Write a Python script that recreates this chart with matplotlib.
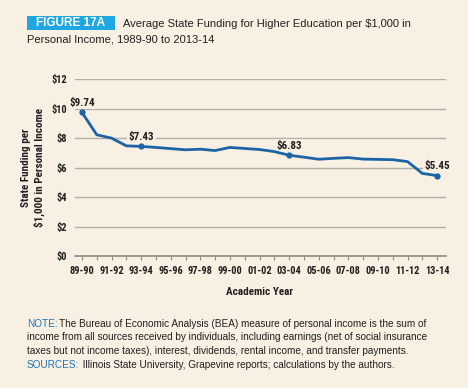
import matplotlib
matplotlib.use("Agg")
import matplotlib.pyplot as plt
from matplotlib.patches import Rectangle

years = ["89-90", "90-91", "91-92", "92-93", "93-94", "94-95", "95-96", "96-97",
         "97-98", "98-99", "99-00", "00-01", "01-02", "02-03", "03-04", "04-05",
         "05-06", "06-07", "07-08", "08-09", "09-10", "10-11", "11-12", "12-13", "13-14"]
funding = [9.74, 8.22, 7.99, 7.47, 7.43, 7.36, 7.28, 7.20, 7.24, 7.15, 7.36, 7.29,
           7.22, 7.08, 6.83, 6.70, 6.56, 6.62, 6.67, 6.57, 6.55, 6.53, 6.40, 5.60, 5.45]
labeled = [0, 4, 14, 24]
yticks = [0, 2, 4, 6, 8, 10, 12]

BG = "#f7f0e3"
BLUE = "#1c64a6"
CYAN = "#1fa7e1"
GRID = "#b3aea6"
TXT = "#231f20"
NARROW = ["Roboto Condensed", "DejaVu Sans"]
SANS = ["Liberation Sans", "DejaVu Sans"]
NOTE_SIZE = 7.2

fig = plt.figure(figsize=(4.68, 3.88), dpi=100, facecolor=BG)
W, H = 468, 388

def fx(px):
    return px / W

def fy(py):
    return 1 - py / H

ax = fig.add_axes([fx(75), fy(256), fx(446) - fx(75), fy(79) - fy(256)])
ax.set_facecolor(BG)

x = list(range(len(years)))
ax.plot(x, funding, color=BLUE, lw=2, solid_joinstyle="round", zorder=3)
ax.plot([x[i] for i in labeled], [funding[i] for i in labeled], "o",
        color=BLUE, ms=3.5, zorder=4)
for i in labeled:
    ax.annotate(f"${funding[i]:.2f}", (x[i], funding[i]), xytext=(0, 7),
                textcoords="offset points", ha="center", va="center",
                fontsize=8, fontweight="bold", family=NARROW, color=TXT,
                bbox=dict(boxstyle="square,pad=0.15", fc=BG, ec="none"), zorder=2)

ax.set_xlim(-0.47, 24.6)
ax.set_ylim(0, 12)
ax.set_yticks(yticks)
ax.set_yticklabels([f"${v}" for v in yticks])
ax.set_xticks(x)
ax.set_xticklabels([y if i % 2 == 0 else "" for i, y in enumerate(years)])
ax.yaxis.grid(True, color=GRID, lw=1)
ax.set_axisbelow(True)
for s in ["top", "right", "left"]:
    ax.spines[s].set_visible(False)
ax.spines["bottom"].set_color("#8f8a83")
ax.spines["bottom"].set_linewidth(1.2)
ax.tick_params(axis="y", length=0, pad=6, labelsize=7.5, labelcolor=TXT)
ax.tick_params(axis="x", length=3, width=0.8, color="#8f8a83", direction="out",
               pad=4, labelsize=7.5, labelcolor=TXT)
for lab in ax.get_xticklabels() + ax.get_yticklabels():
    lab.set_family(NARROW)
    lab.set_fontweight("bold")

ax.set_ylabel("State Funding per\n$1,000 in Personal Income", fontsize=8,
              fontweight="bold", family=NARROW, color=TXT, labelpad=4,
              linespacing=1.3)
fig.text(fx(260), fy(292), "Academic Year", ha="center", va="center",
         fontsize=8, fontweight="bold", family=NARROW, color=TXT)

# header
fig.patches.append(Rectangle((fx(27), fy(30)), fx(115) - fx(27), fy(16) - fy(30),
                             transform=fig.transFigure, fc=CYAN, ec="none"))
fig.text(fx(71), fy(23.5), "FIGURE 17A", ha="center", va="center", color="white",
         fontsize=8.5, fontweight="bold", family=SANS)
fig.text(fx(123), fy(24), "Average State Funding for Higher Education per $1,000 in",
         ha="left", va="center", fontsize=8, family=SANS, color=TXT)
fig.text(fx(27), fy(39.5), "Personal Income, 1989-90 to 2013-14",
         ha="left", va="center", fontsize=8, family=SANS, color=TXT)

# notes
renderer = fig.canvas.get_renderer()

def two_part(py, head, rest):
    t = fig.text(fx(27), fy(py), head, ha="left", va="center", fontsize=NOTE_SIZE,
                 family=SANS, color="#1f75b9")
    bb = t.get_window_extent(renderer)
    fig.text(bb.x1 / W + 0.002, fy(py), rest, ha="left", va="center",
             fontsize=NOTE_SIZE, family=SANS, color=TXT)

two_part(324, "NOTE:", "The Bureau of Economic Analysis (BEA) measure of personal income is the sum of")
fig.text(fx(27), fy(337.5), "income from all sources received by individuals, including earnings (net of social insurance",
         ha="left", va="center", fontsize=NOTE_SIZE, family=SANS, color=TXT)
fig.text(fx(27), fy(351), "taxes but not income taxes), interest, dividends, rental income, and transfer payments.",
         ha="left", va="center", fontsize=NOTE_SIZE, family=SANS, color=TXT)
two_part(365, "SOURCES:", " Illinois State University, Grapevine reports; calculations by the authors.")

fig.savefig("out.png", dpi=100, facecolor=BG)
